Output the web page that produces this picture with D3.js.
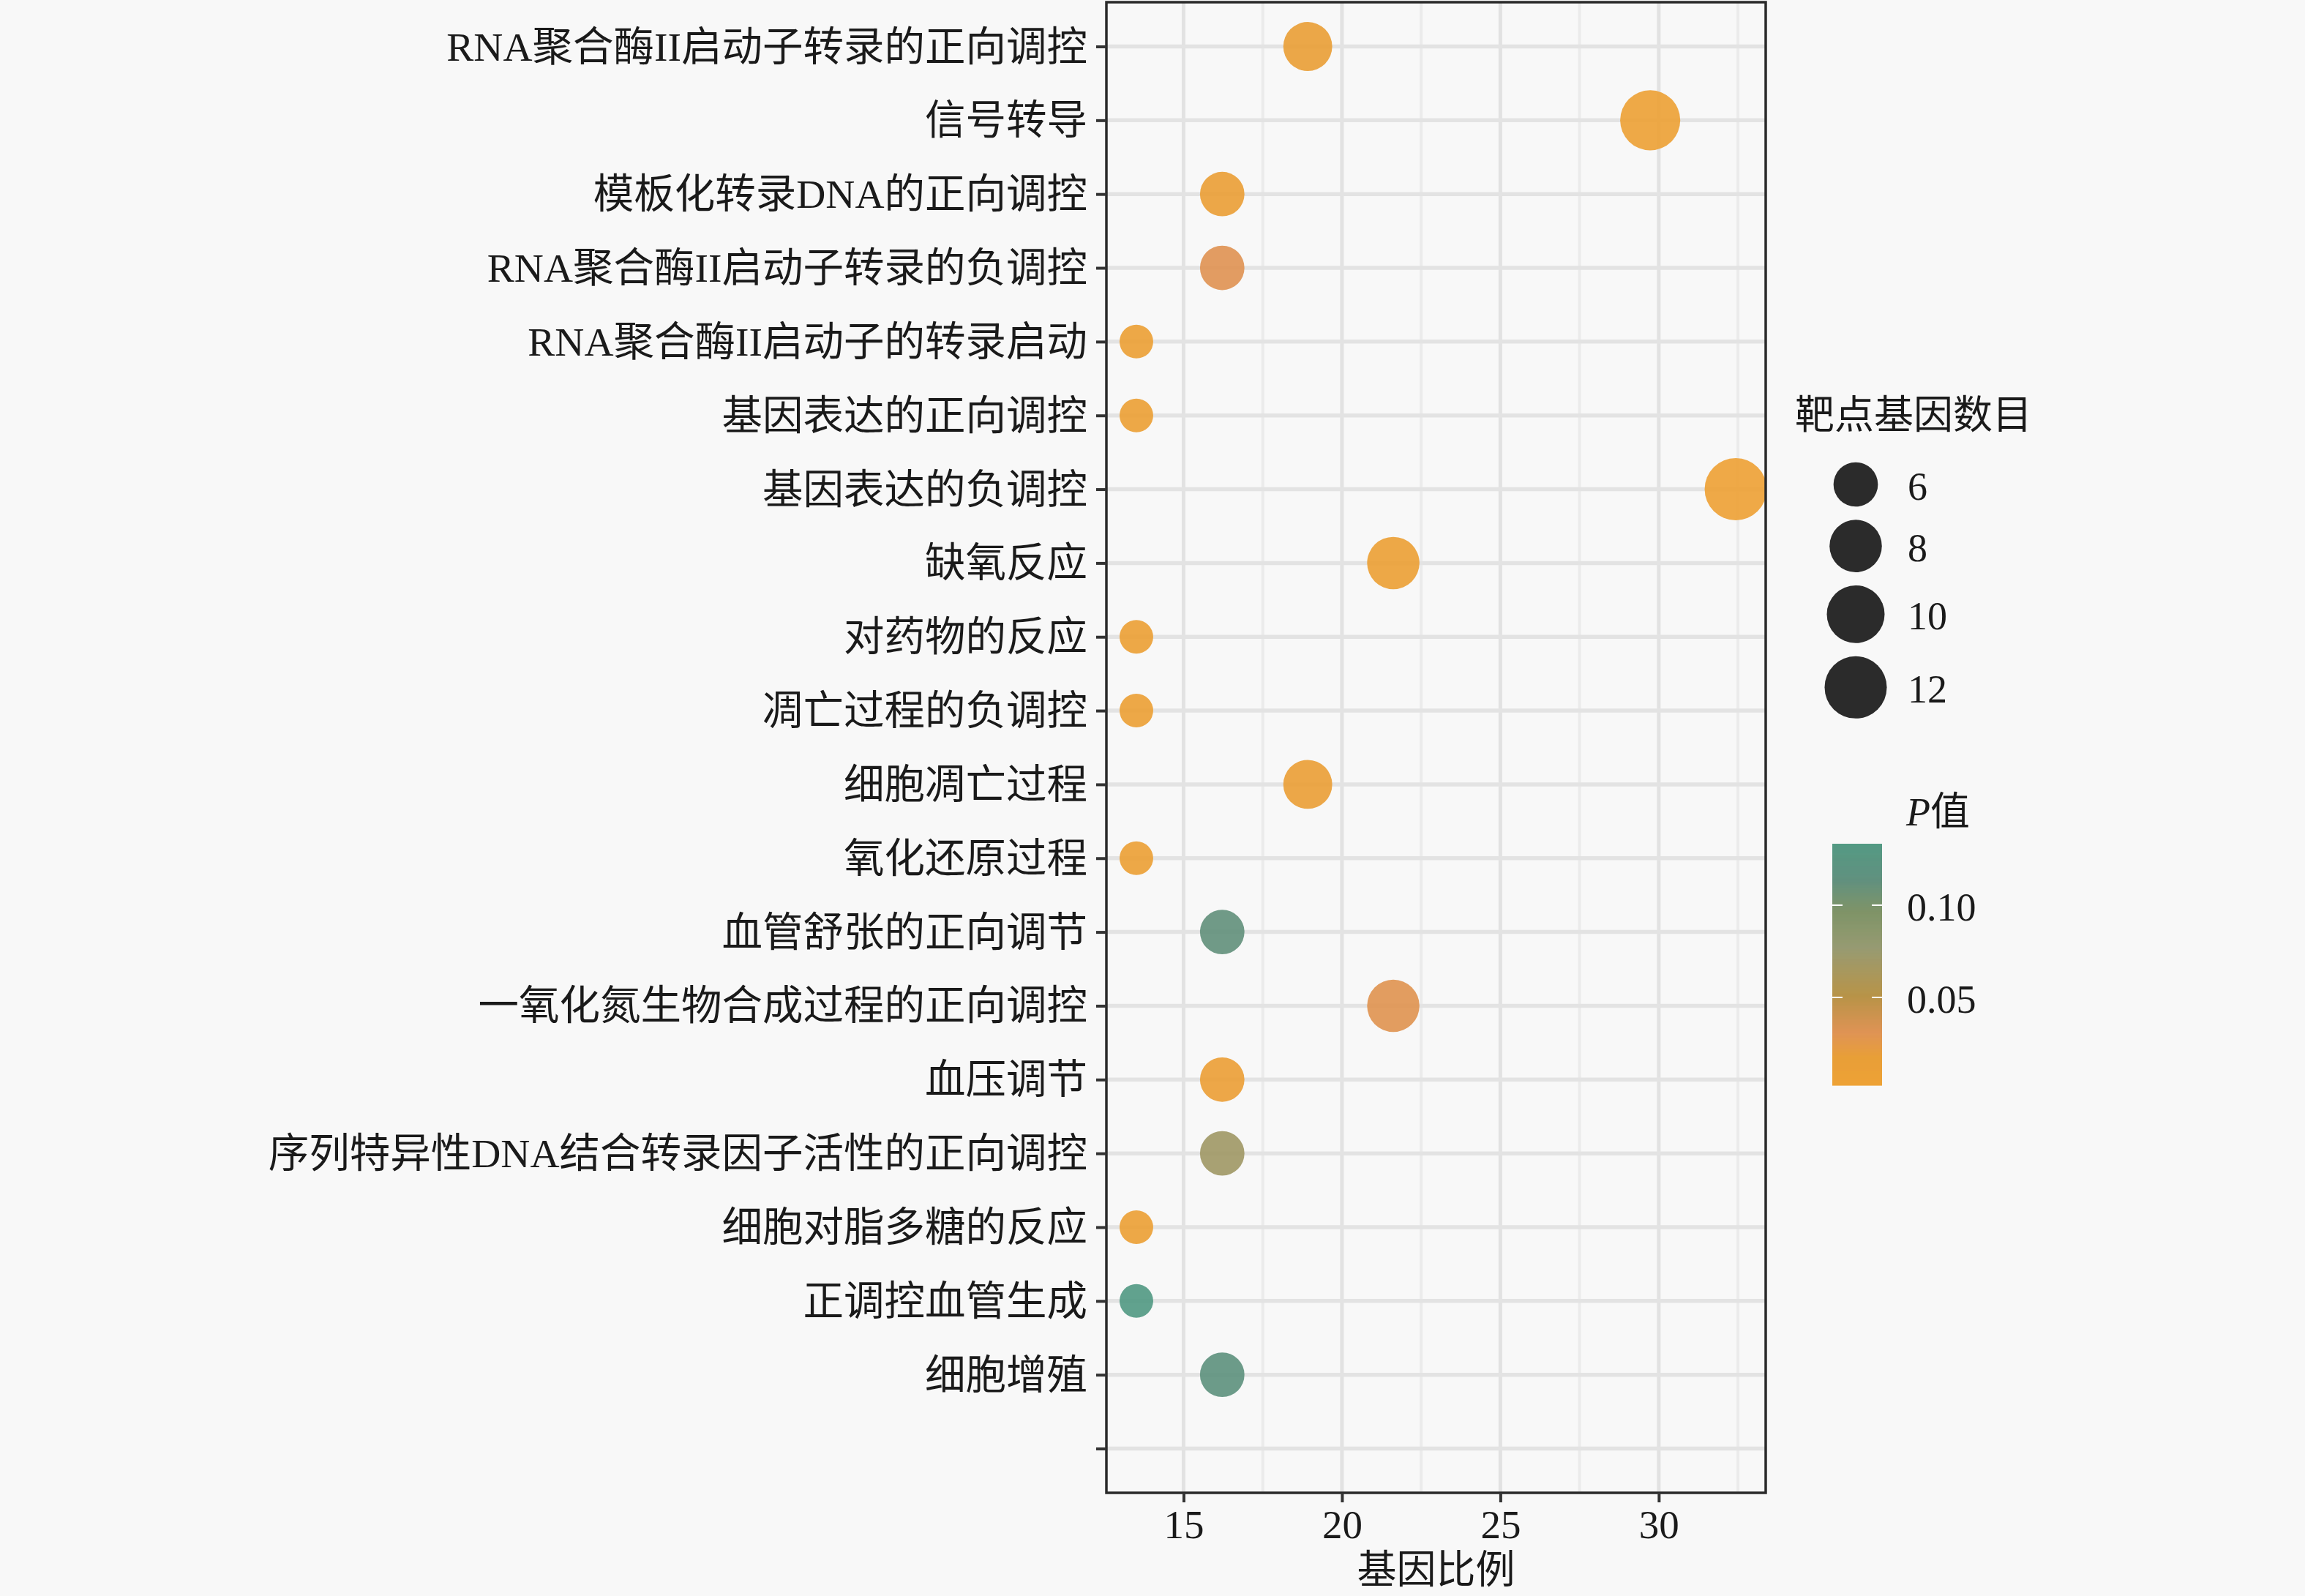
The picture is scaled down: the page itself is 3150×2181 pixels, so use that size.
<!DOCTYPE html>
<html><head><meta charset="utf-8">
<script src="https://cdn.jsdelivr.net/npm/d3@7/dist/d3.min.js"></script>
<style>
html,body{margin:0;padding:0;background:#f8f8f8;}
svg{display:block;}
text{font-family:"Liberation Serif","Noto Sans CJK SC",serif;fill:#1a1a1a;}
</style></head>
<body>
<svg id="chart" width="3150" height="2181"></svg>
<script>
// ---------------- data ----------------
const categories = [
  "RNA聚合酶II启动子转录的正向调控","信号转导","模板化转录DNA的正向调控","RNA聚合酶II启动子转录的负调控",
  "RNA聚合酶II启动子的转录启动","基因表达的正向调控","基因表达的负调控","缺氧反应","对药物的反应",
  "凋亡过程的负调控","细胞凋亡过程","氧化还原过程","血管舒张的正向调节","一氧化氮生物合成过程的正向调控",
  "血压调节","序列特异性DNA结合转录因子活性的正向调控","细胞对脂多糖的反应","正调控血管生成","细胞增殖",""
];
const geneRatio = [18.92,29.73,16.22,16.22,13.51,13.51,32.43,21.62,13.51,13.51,18.92,13.51,16.22,21.62,16.22,16.22,13.51,13.51,16.22];
const geneCount = [7,11,6,6,5,5,12,8,5,5,7,5,6,8,6,6,5,5,6];
const pValue    = [0.016,0.004,0.012,0.031,0.010,0.010,0.0024,0.008,0.010,0.010,0.012,0.010,0.112,0.030,0.011,0.070,0.010,0.1333,0.115];
const xTicks = [15,20,25,30];
const xMinorTicks = [17.5,22.5,27.5,32.5];
const sizeBreaks = [6,8,10,12];
const colorBreaks = [0.05,0.10];
const colorStops = ["#eea237","#e89f38","#df9455","#b89448","#979b72","#7f9468","#61917f","#549a84"];
const colorStopPos = [0,0.12,0.22,0.37,0.57,0.72,0.85,1];
const xTitle = "基因比例";
const sizeTitle = "靶点基因数目";

// ---------------- layout ----------------
const svg = d3.select("#chart");
const W = 3150, H = 2181;
const P = {l:1512, r:2413, t:3, b:2040};
const FS = 54;
const FSY = 55.5;

svg.append("rect").attr("width",W).attr("height",H).attr("fill","#f8f8f8");

const data = geneRatio.map((v,i)=>({cat:categories[i], ratio:v, count:geneCount[i], p:pValue[i]}));

const ext = d3.extent(geneRatio);
const pad = (ext[1]-ext[0])*0.05;
const x = d3.scaleLinear().domain([ext[0]-pad, ext[1]+pad]).range([P.l,P.r]);
const y = d3.scalePoint().domain(categories).range([P.t,P.b]).padding(0.6);

const cExt = d3.extent(pValue);
const tScale = d3.scaleLinear().domain(cExt).range([0,1]);
const colorT = d3.scaleLinear().domain(colorStopPos).range(colorStops).interpolate(d3.interpolateLab);
const color = p => colorT(tScale(p));

const sExt = d3.extent(geneCount);
const sT = d3.scaleLinear().domain(sExt).range([0,1]);
const sR = d3.scaleLinear().domain([0,1]).range([23,42.5]);
const radius = n => sR(Math.sqrt(sT(n)));

// clip
svg.append("clipPath").attr("id","clip").append("rect")
  .attr("x",P.l).attr("y",P.t).attr("width",P.r-P.l).attr("height",P.b-P.t);

const grid = svg.append("g");
grid.selectAll("line.minor").data(xMinorTicks).enter().append("line")
  .attr("x1",d=>x(d)).attr("x2",d=>x(d)).attr("y1",P.t).attr("y2",P.b)
  .attr("stroke","#ebebeb").attr("stroke-width",4);
grid.selectAll("line.major").data(xTicks).enter().append("line")
  .attr("x1",d=>x(d)).attr("x2",d=>x(d)).attr("y1",P.t).attr("y2",P.b)
  .attr("stroke","#e2e2e2").attr("stroke-width",5);
grid.selectAll("line.h").data(categories).enter().append("line")
  .attr("x1",P.l).attr("x2",P.r).attr("y1",d=>y(d)).attr("y2",d=>y(d))
  .attr("stroke","#e3e3e3").attr("stroke-width",5.5);

// points
svg.append("g").attr("clip-path","url(#clip)")
  .selectAll("circle").data(data).enter().append("circle")
  .attr("cx",d=>x(d.ratio)).attr("cy",d=>y(d.cat)).attr("r",d=>radius(d.count))
  .attr("fill",d=>color(d.p)).attr("fill-opacity",0.92);

// panel border
svg.append("rect").attr("x",P.l).attr("y",P.t).attr("width",P.r-P.l).attr("height",P.b-P.t)
  .attr("fill","none").attr("stroke","#2a2a2a").attr("stroke-width",3.5);

// y axis
const yAxis = d3.axisLeft(y).tickSize(14).tickPadding(12);
const gy = svg.append("g").attr("transform",`translate(${P.l},0)`).call(yAxis);
gy.select(".domain").remove();
gy.selectAll(".tick line").attr("stroke","#333").attr("stroke-width",4);
gy.selectAll(".tick text").attr("font-size",FSY).attr("fill","#1a1a1a")
  .attr("font-family",'"Liberation Serif","Noto Sans CJK SC",serif').attr("dy",null)
  .attr("dominant-baseline","central");

// x axis
const xAxis = d3.axisBottom(x).tickValues(xTicks).tickSize(13).tickPadding(10).tickFormat(d3.format("d"));
const gx = svg.append("g").attr("transform",`translate(0,${P.b})`).call(xAxis);
gx.select(".domain").remove();
gx.selectAll(".tick line").attr("stroke","#333").attr("stroke-width",4);
gx.selectAll(".tick text").attr("font-size",FS+1).attr("fill","#1a1a1a")
  .attr("font-family",'"Liberation Serif","Noto Sans CJK SC",serif');

svg.append("text").attr("x",(P.l+P.r)/2).attr("y",2146).attr("text-anchor","middle")
  .attr("dominant-baseline","central").attr("font-size",FS).text(xTitle);

// size legend
const lg = svg.append("g");
lg.append("text").attr("x",2453).attr("y",568).attr("dominant-baseline","central")
  .attr("font-size",FS).text(sizeTitle);
let cy = 662;
sizeBreaks.forEach((b,i)=>{
  if(i>0) cy += radius(sizeBreaks[i-1]) + radius(b) + 18;
  lg.append("circle").attr("cx",2536).attr("cy",cy).attr("r",radius(b)).attr("fill","#2b2b2b");
  lg.append("text").attr("x",2607).attr("y",cy+3).attr("dominant-baseline","central")
    .attr("font-size",FS).text(b);
});

// colour legend
const cb = {x:2504, w:68, top:1153, bot:1483};
const cy2 = d3.scaleLinear().domain(cExt).range([cb.bot, cb.top]);
const cg = svg.append("g");
const tt = cg.append("text").attr("x",2605).attr("y",1110).attr("dominant-baseline","central").attr("font-size",FS);
tt.append("tspan").attr("font-style","italic").text("P");
tt.append("tspan").text("值");
const nb = 330;
d3.range(nb).forEach(i=>{
  const p0 = cExt[0] + (cExt[1]-cExt[0])*i/nb;
  const p1 = cExt[0] + (cExt[1]-cExt[0])*(i+1)/nb;
  cg.append("rect").attr("x",cb.x).attr("width",cb.w)
    .attr("y",cy2(p1)).attr("height",cy2(p0)-cy2(p1)+0.6)
    .attr("fill",color((p0+p1)/2));
});
colorBreaks.forEach(b=>{
  cg.append("line").attr("x1",cb.x).attr("x2",cb.x+14).attr("y1",cy2(b)).attr("y2",cy2(b))
    .attr("stroke","#ffffff").attr("stroke-width",2);
  cg.append("line").attr("x1",cb.x+cb.w-14).attr("x2",cb.x+cb.w).attr("y1",cy2(b)).attr("y2",cy2(b))
    .attr("stroke","#ffffff").attr("stroke-width",2);
  cg.append("text").attr("x",2606).attr("y",cy2(b)+3).attr("dominant-baseline","central")
    .attr("font-size",FS).text(d3.format(".2f")(b));
});
</script>
</body></html>
